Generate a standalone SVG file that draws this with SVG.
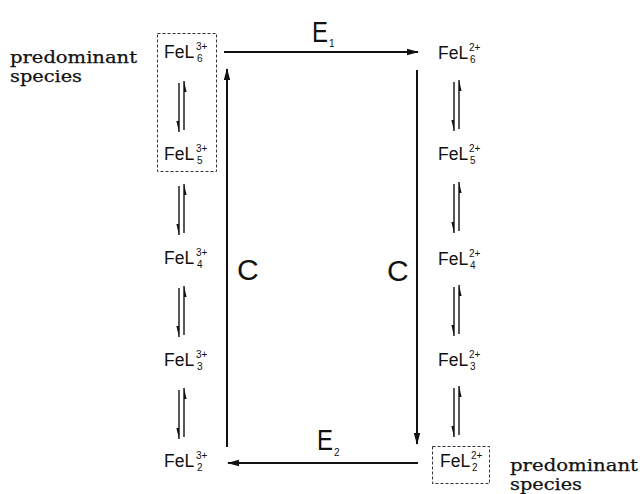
<svg xmlns="http://www.w3.org/2000/svg" xmlns:xlink="http://www.w3.org/1999/xlink" width="640" height="494" viewBox="0 0 640 494">
<style>
.fe{font-family:"Liberation Sans",Arial,sans-serif;font-size:17.5px;fill:#111}
.sc{font-family:"Liberation Sans",Arial,sans-serif;font-size:10px;fill:#111}
.big{font-family:"Liberation Sans",Arial,sans-serif;font-size:30px;fill:#111}
.lab{font-family:"DejaVu Serif","Liberation Serif",serif;font-size:17px;fill:#111;stroke:#111;stroke-width:0.25}
.box{fill:none;stroke:#333;stroke-width:1;stroke-dasharray:3 2}
.ln{stroke:#111;stroke-width:2;fill:none}
.hl{stroke:#111;stroke-width:1.4;fill:none}
</style>
<defs>
<marker id="ah" markerWidth="12" markerHeight="8" refX="11" refY="4" orient="auto" markerUnits="userSpaceOnUse">
<path d="M0,0.8 L12,4 L0,7.2 Z" fill="#111"/>
</marker>
<g id="eq">
<line class="hl" x1="0" y1="2" x2="0" y2="51"/>
<path d="M0,51 L-2.6,40 L0,40 Z" fill="#111"/>
<line class="hl" x1="5" y1="0" x2="5" y2="49"/>
<path d="M5,0 L7.6,11 L5,11 Z" fill="#111"/>
</g>
</defs>
<rect width="640" height="494" fill="#fff"/>

<g id="connectors">
<line class="ln" x1="224" y1="52" x2="418" y2="52" marker-end="url(#ah)"/>
<line class="ln" x1="417" y1="70" x2="417" y2="444" marker-end="url(#ah)"/>
<line class="ln" x1="418" y1="463" x2="228" y2="463" marker-end="url(#ah)"/>
<line class="ln" x1="227" y1="447" x2="227" y2="69" marker-end="url(#ah)"/>
<use xlink:href="#eq" x="179" y="81"/>
<use xlink:href="#eq" x="179" y="184"/>
<use xlink:href="#eq" x="179" y="286"/>
<use xlink:href="#eq" x="179" y="388"/>
<use xlink:href="#eq" x="454" y="80"/>
<use xlink:href="#eq" x="454" y="182"/>
<use xlink:href="#eq" x="454" y="285"/>
<use xlink:href="#eq" x="454" y="386"/>
</g>

<g id="label-E1">
<text class="big" font-size="26" transform="translate(312,42) scale(0.8,1)">E</text>
<text class="sc" x="329" y="47" font-size="13">1</text>
</g>
<g id="label-E2">
<text class="big" font-size="26" transform="translate(317,450) scale(0.8,1)">E</text>
<text class="sc" x="334" y="456" font-size="13">2</text>
</g>
<g id="label-C-left"><text class="big" x="237" y="280">C</text></g>
<g id="label-C-right"><text class="big" x="387" y="281">C</text></g>

<g id="FeL6-3">
<rect class="box" x="157.5" y="33.5" width="59" height="138"/>
<text class="fe" x="164" y="58">FeL</text><text class="sc" x="196" y="50">3+</text><text class="sc" x="197" y="62">6</text>
</g>
<g id="FeL5-3">
<text class="fe" x="164" y="160">FeL</text><text class="sc" x="196" y="152">3+</text><text class="sc" x="197" y="164">5</text>
</g>
<g id="FeL4-3">
<text class="fe" x="164" y="264">FeL</text><text class="sc" x="196" y="256">3+</text><text class="sc" x="197" y="268">4</text>
</g>
<g id="FeL3-3">
<text class="fe" x="164" y="366">FeL</text><text class="sc" x="196" y="358">3+</text><text class="sc" x="197" y="370">3</text>
</g>
<g id="FeL2-3">
<text class="fe" x="164" y="467">FeL</text><text class="sc" x="196" y="459">3+</text><text class="sc" x="197" y="471">2</text>
</g>

<g id="FeL6-2">
<text class="fe" x="438" y="59">FeL</text><text class="sc" x="469" y="51">2+</text><text class="sc" x="470" y="63">6</text>
</g>
<g id="FeL5-2">
<text class="fe" x="438" y="160">FeL</text><text class="sc" x="469" y="152">2+</text><text class="sc" x="470" y="164">5</text>
</g>
<g id="FeL4-2">
<text class="fe" x="438" y="265">FeL</text><text class="sc" x="469" y="257">2+</text><text class="sc" x="470" y="269">4</text>
</g>
<g id="FeL3-2">
<text class="fe" x="438" y="366">FeL</text><text class="sc" x="469" y="358">2+</text><text class="sc" x="470" y="370">3</text>
</g>
<g id="FeL2-2">
<rect class="box" x="432.5" y="446.5" width="57" height="37"/>
<text class="fe" x="440" y="467">FeL</text><text class="sc" x="471" y="459">2+</text><text class="sc" x="472" y="471">2</text>
</g>

<g id="note-left">
<text class="lab" x="10" y="63" textLength="127" lengthAdjust="spacingAndGlyphs">predominant</text>
<text class="lab" x="10" y="82" textLength="72" lengthAdjust="spacingAndGlyphs">species</text>
</g>
<g id="note-right">
<text class="lab" x="510" y="471" textLength="128" lengthAdjust="spacingAndGlyphs">predominant</text>
<text class="lab" x="510" y="490" textLength="72" lengthAdjust="spacingAndGlyphs">species</text>
</g>
</svg>
